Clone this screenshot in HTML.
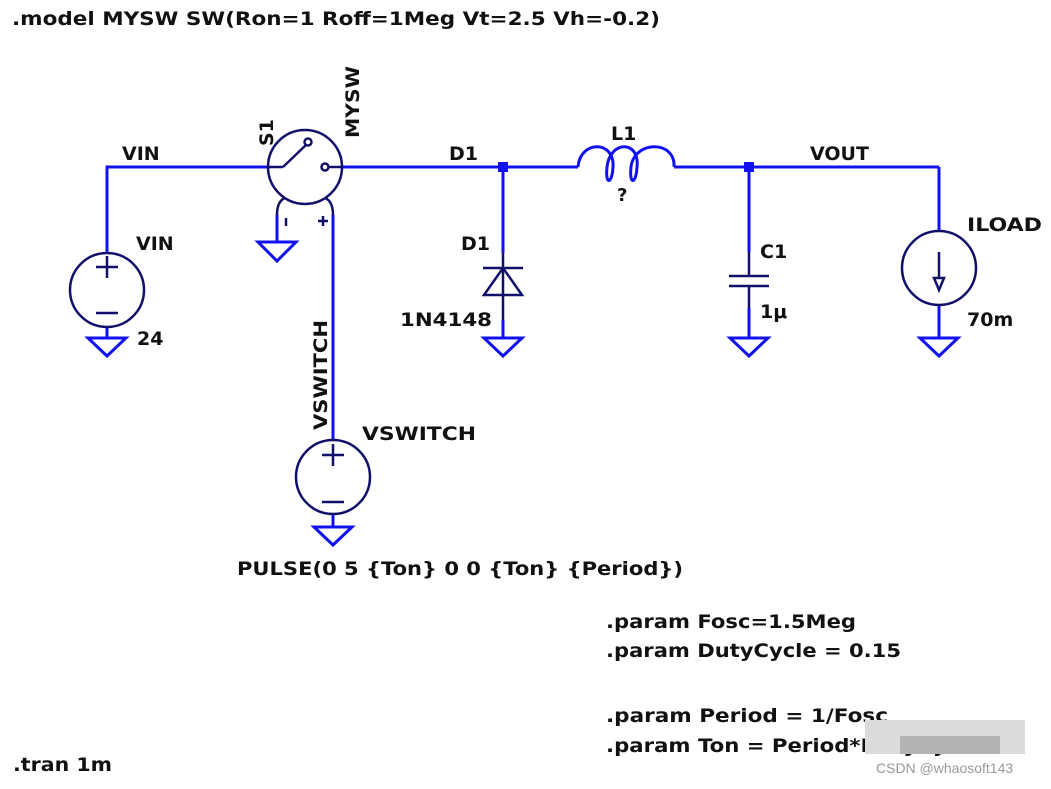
<!DOCTYPE html>
<html><head><meta charset="utf-8"><style>
html,body{margin:0;padding:0;background:#fff;}
svg text{font-family:"DejaVu Sans","Liberation Sans",sans-serif;font-weight:bold;font-size:19px;fill:#111;}
</style></head><body>
<svg width="1051" height="784" viewBox="0 0 1051 784" xmlns="http://www.w3.org/2000/svg">
<rect width="1051" height="784" fill="#fff"/>
<g fill="none" stroke="#1010f0" stroke-width="3">
<polyline points="107,253 107,167 270,167"/>
<line x1="343" y1="167" x2="578" y2="167"/>
<line x1="674" y1="167" x2="939" y2="167"/>
<line x1="939" y1="167" x2="939" y2="231"/>
<line x1="107" y1="327" x2="107" y2="338"/>
<line x1="333" y1="215" x2="333" y2="440"/>
<line x1="333" y1="514" x2="333" y2="527"/>
<line x1="277" y1="215" x2="277" y2="242"/>
<line x1="503" y1="167" x2="503" y2="253"/>
<line x1="503" y1="320" x2="503" y2="338"/>
<line x1="749" y1="167" x2="749" y2="252"/>
<line x1="749" y1="308" x2="749" y2="338"/>
<line x1="939" y1="305" x2="939" y2="338"/>
<polygon points="88,338 126,338 107,356"/>
<polygon points="258,242 296,242 277,261"/>
<polygon points="314,527 352,527 333,545"/>
<polygon points="484,338 522,338 503,356"/>
<polygon points="730,338 768,338 749,356"/>
<polygon points="920,338 958,338 939,356"/>
<path d="M578,167 C580,140 615,140 613,167 C612,185 605,185 607,167 C610,140 640,140 637,167 C636,185 629,185 631,167 C634,140 676,140 674,167"/>
</g>
<rect x="498" y="162" width="10" height="10" fill="#1010f0"/>
<rect x="744" y="162" width="10" height="10" fill="#1010f0"/>
<g fill="none" stroke="#10106a" stroke-width="2.5">
<circle cx="107" cy="290" r="37"/>
<line x1="96" y1="267" x2="118" y2="267"/><line x1="107" y1="256" x2="107" y2="278"/>
<line x1="96" y1="313" x2="118" y2="313"/>
<circle cx="305" cy="167" r="37"/>
<line x1="268" y1="167" x2="283" y2="167"/>
<line x1="283" y1="167" x2="306" y2="145"/>
<circle cx="308" cy="142" r="3.5"/>
<circle cx="325" cy="167" r="3.5"/>
<line x1="329" y1="167" x2="343" y2="167"/>
<path d="M277,215 C277,205 280,200 285,198"/>
<path d="M333,215 C333,205 330,200 325,198"/>
<line x1="286" y1="218" x2="286" y2="226"/>
<line x1="318" y1="221" x2="328" y2="221"/><line x1="323" y1="216" x2="323" y2="226"/>
<circle cx="333" cy="477" r="37"/>
<line x1="322" y1="455" x2="344" y2="455"/><line x1="333" y1="444" x2="333" y2="466"/>
<line x1="322" y1="502" x2="344" y2="502"/>
<line x1="503" y1="253" x2="503" y2="320"/>
<line x1="483" y1="268" x2="523" y2="268"/>
<polygon points="503,268 484,295 522,295"/>
<line x1="749" y1="252" x2="749" y2="276"/>
<line x1="749" y1="286" x2="749" y2="308"/>
<line x1="729" y1="276" x2="769" y2="276"/>
<line x1="729" y1="286" x2="769" y2="286"/>
<circle cx="939" cy="268" r="37"/>
<line x1="939" y1="252" x2="939" y2="278"/>
<polygon points="934,278 944,278 939,290"/>
</g>
<text x="12" y="25" textLength="648" lengthAdjust="spacingAndGlyphs">.model MYSW SW(Ron=1 Roff=1Meg Vt=2.5 Vh=-0.2)</text>
<text x="122" y="160">VIN</text>
<text x="136" y="250">VIN</text>
<text x="137" y="345">24</text>
<text transform="translate(273,146) rotate(-90)">S1</text>
<text transform="translate(359,138) rotate(-90)" textLength="72" lengthAdjust="spacingAndGlyphs">MYSW</text>
<text x="449" y="160">D1</text>
<text x="611" y="140">L1</text>
<text x="617" y="201" style="font-size:18px">?</text>
<text x="810" y="160">VOUT</text>
<text x="461" y="250">D1</text>
<text x="400" y="326" textLength="92" lengthAdjust="spacingAndGlyphs">1N4148</text>
<text x="760" y="258">C1</text>
<text x="760" y="318">1μ</text>
<text x="967" y="231" textLength="75" lengthAdjust="spacingAndGlyphs">ILOAD</text>
<text x="967" y="326">70m</text>
<text transform="translate(327,430) rotate(-90)" textLength="110" lengthAdjust="spacingAndGlyphs">VSWITCH</text>
<text x="362" y="440" textLength="114" lengthAdjust="spacingAndGlyphs">VSWITCH</text>
<text x="237" y="575" textLength="446" lengthAdjust="spacingAndGlyphs">PULSE(0 5 {Ton} 0 0 {Ton} {Period})</text>
<text x="606" y="628" textLength="250" lengthAdjust="spacingAndGlyphs">.param Fosc=1.5Meg</text>
<text x="606" y="657" textLength="295" lengthAdjust="spacingAndGlyphs">.param DutyCycle = 0.15</text>
<text x="606" y="722" textLength="282" lengthAdjust="spacingAndGlyphs">.param Period = 1/Fosc</text>
<text x="606" y="752" textLength="375" lengthAdjust="spacingAndGlyphs">.param Ton = Period*DutyCycle</text>
<text x="13" y="771" textLength="99" lengthAdjust="spacingAndGlyphs">.tran 1m</text>
<rect x="865" y="720" width="160" height="34" fill="#dcdcdc"/>
<rect x="900" y="736" width="100" height="18" fill="#b4b4b4"/>
<text x="876" y="773" style="font-family:'Liberation Sans',sans-serif;font-weight:normal;font-size:14px;fill:#999">CSDN @whaosoft143</text>
</svg>
</body></html>
